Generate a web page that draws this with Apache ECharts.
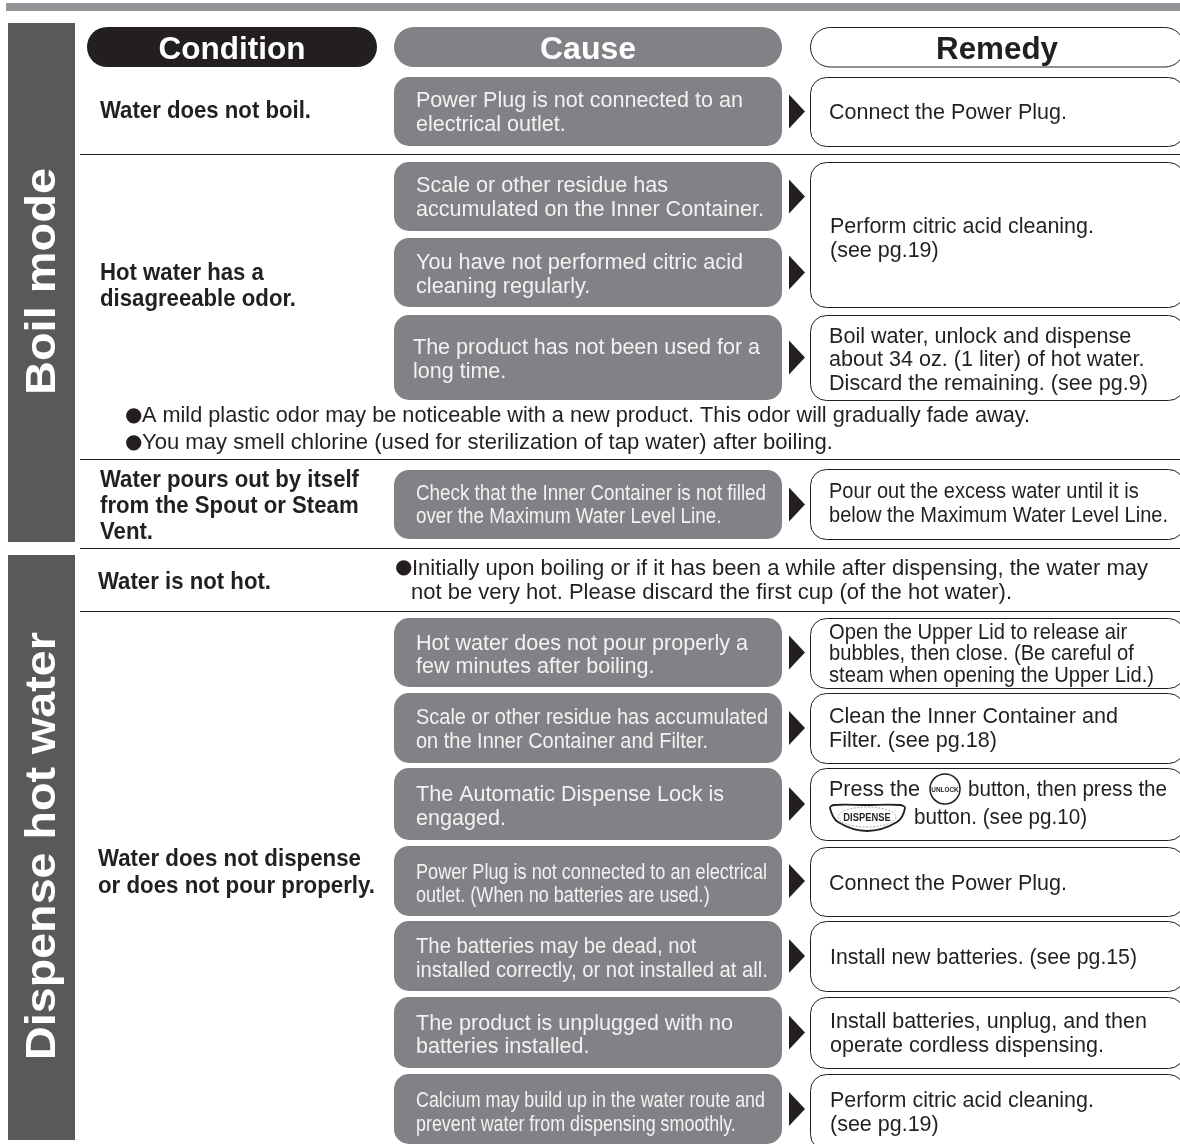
<!DOCTYPE html>
<html>
<head>
<meta charset="utf-8">
<title>Troubleshooting</title>
<script src="https://cdn.jsdelivr.net/npm/echarts@6/dist/echarts.min.js"></script>
<style>
  html, body { margin: 0; padding: 0; background: #fff; }
  #chart { width: 1180px; height: 1144px; }
</style>
</head>
<body>
<div id="chart"></div>
<script>
// table content
const sideLabels = ['Boil mode', 'Dispense hot water'];
const headers = ['Condition', 'Cause', 'Remedy'];
const conditions = [
  ['Water does not boil.'],
  ['Hot water has a', 'disagreeable odor.'],
  ['Water pours out by itself', 'from the Spout or Steam', 'Vent.'],
  ['Water is not hot.'],
  ['Water does not dispense', 'or does not pour properly.']
];
const causes = [
  ['Power Plug is not connected to an', 'electrical outlet.'],
  ['Scale or other residue has', 'accumulated on the Inner Container.'],
  ['You have not performed citric acid', 'cleaning regularly.'],
  ['The product has not been used for a', 'long time.'],
  ['Check that the Inner Container is not filled', 'over the Maximum Water Level Line.'],
  ['Hot water does not pour properly a', 'few minutes after boiling.'],
  ['Scale or other residue has accumulated', 'on the Inner Container and Filter.'],
  ['The Automatic Dispense Lock is', 'engaged.'],
  ['Power Plug is not connected to an electrical', 'outlet. (When no batteries are used.)'],
  ['The batteries may be dead, not', 'installed correctly, or not installed at all.'],
  ['The product is unplugged with no', 'batteries installed.'],
  ['Calcium may build up in the water route and', 'prevent water from dispensing smoothly.']
];
const remedies = [
  ['Connect the Power Plug.'],
  ['Perform citric acid cleaning.', '(see pg.19)'],
  ['Boil water, unlock and dispense', 'about 34 oz. (1 liter) of hot water.', 'Discard the remaining. (see pg.9)'],
  ['Pour out the excess water until it is', 'below the Maximum Water Level Line.'],
  ['Open the Upper Lid to release air', 'bubbles, then close. (Be careful of', 'steam when opening the Upper Lid.)'],
  ['Clean the Inner Container and', 'Filter. (see pg.18)'],
  ['Connect the Power Plug.'],
  ['Install new batteries. (see pg.15)'],
  ['Install batteries, unplug, and then', 'operate cordless dispensing.'],
  ['Perform citric acid cleaning.', '(see pg.19)']
];
const pressLines = ['Press the', 'button, then press the', 'button. (see pg.10)'];
const notes = [
  ['A mild plastic odor may be noticeable with a new product. This odor will gradually fade away.'],
  ['You may smell chlorine (used for sterilization of tap water) after boiling.'],
  ['Initially upon boiling or if it has been a while after dispensing, the water may'],
  ['not be very hot. Please discard the first cup (of the hot water).']
];

// layout: [x, first line y, line height, widest line width]
const conditionPos = [[100, 110, 0, 211], [100, 272, 26, 196], [100, 479, 26, 259], [98, 581, 0, 173], [98, 858, 27, 277]];
const causePos = [
  [416, 99, 24, 327], [416, 184, 24, 348], [416, 261, 24, 327], [413, 346, 24, 347],
  [416, 492, 23, 350], [416, 642, 23, 332], [416, 716, 24, 352], [416, 793, 24, 308],
  [416, 871, 23, 351], [416, 945, 24, 352], [416, 1022, 23, 317], [416, 1099, 24, 349]
];
const remedyPos = [
  [829, 111, 0, 238], [830, 225, 24, 264], [829, 335, 23.5, 319], [829, 490, 24, 339],
  [829, 631, 21.5, 325], [829, 715, 24, 289], [829, 882, 0, 238], [830, 956, 0, 307],
  [830, 1020, 24, 317], [830, 1099, 24, 264]
];
const notePos = [[142, 414, 0, 888], [142, 441, 0, 691], [412, 567, 0, 736], [411, 591, 0, 601]];
const bulletPos = [[125, 414], [125, 441], [395, 566]];
const causeBoxes = [[77, 146], [162, 231], [238, 307], [315, 400], [470, 539], [618, 687], [693, 763], [768, 840], [846, 916], [921, 991], [997, 1068], [1074, 1144]];
const remedyBoxes = [[77, 146], [162, 307], [315, 400], [469, 539], [618, 688], [693, 763], [768, 840], [847, 916], [921, 991], [997, 1068], [1074, 1150]];
const ruleYs = [154.5, 459.5, 548.5, 611.5];
const sidePanels = [[23, 542], [555, 1140]];

const FONT = '"Liberation Sans", Arial, sans-serif';
const INK = '#231f20';
const TEXT_SHIFT = 1.5;
const measure = document.createElement('canvas').getContext('2d');

function fitScale(lines, size, weight, width) {
  measure.font = weight + ' ' + size + 'px ' + FONT;
  const widest = Math.max(...lines.map(l => measure.measureText(l).width));
  return width / widest;
}

function textBlock(lines, pos, size, weight, fill) {
  const sx = fitScale(lines, size, weight, pos[3]);
  return lines.map((line, i) => ({
    type: 'text',
    x: pos[0],
    y: pos[1] + i * pos[2] + TEXT_SHIFT,
    scaleX: sx,
    style: { text: line, fill: fill, font: weight + ' ' + size + 'px ' + FONT, textAlign: 'left', textVerticalAlign: 'middle' }
  }));
}

function box(x, y0, y1, width, r, fill, stroke) {
  return {
    type: 'rect',
    shape: { x: x, y: y0, width: width, height: y1 - y0, r: r },
    style: { fill: fill, stroke: stroke || null, lineWidth: stroke ? 1 : 0 }
  };
}

function ellipsePoints(cx, cy, rx, ry) {
  const pts = [];
  for (let a = 0; a < 360; a += 10) {
    pts.push([cx + rx * Math.cos(a * Math.PI / 180), cy + ry * Math.sin(a * Math.PI / 180)]);
  }
  return pts;
}

const items = [];

// top bar, rules and side panels
items.push({ type: 'rect', shape: { x: 6, y: 3, width: 1174, height: 8 }, style: { fill: '#929497' } });
ruleYs.forEach(y => items.push({ type: 'line', shape: { x1: 80, y1: y, x2: 1180, y2: y }, style: { stroke: '#231f20', lineWidth: 1 } }));
sidePanels.forEach((p, i) => {
  items.push(box(8, p[0], p[1], 67, 0, '#58595b'));
  const target = i === 0 ? 227 : 428;
  measure.font = 'bold 43px ' + FONT;
  items.push({
    type: 'text',
    x: 43,
    y: i === 0 ? 281.5 : 846,
    rotation: Math.PI / 2,
    scaleX: target / measure.measureText(sideLabels[i]).width,
    style: { text: sideLabels[i], fill: '#fff', font: 'bold 43px ' + FONT, textAlign: 'center', textVerticalAlign: 'middle' }
  });
});

// header pills
const headerPills = [[87, 290, '#231f20', null, '#fff', 232, 147], [394, 388, '#808285', null, '#fff', 588, 96], [810.5, 374, '#fff', '#231f20', INK, 997, 122]];
headerPills.forEach((h, i) => {
  items.push(box(h[0], i === 2 ? 27.5 : 27, 67, h[1], 20, h[2], h[3]));
  measure.font = 'bold 32px ' + FONT;
  items.push({
    type: 'text', x: h[5], y: 50.5,
    scaleX: h[6] / measure.measureText(headers[i]).width,
    style: { text: headers[i], fill: h[4], font: 'bold 32px ' + FONT, textAlign: 'center', textVerticalAlign: 'middle' }
  });
});

// cause boxes and their arrows
causeBoxes.forEach((b, i) => {
  items.push(box(394, b[0], b[1], 388, 15, '#808285'));
  const mid = (b[0] + b[1]) / 2;
  items.push({ type: 'polygon', shape: { points: [[789, mid - 17], [805, mid], [789, mid + 17]] }, style: { fill: INK } });
  items.push(...textBlock(causes[i], causePos[i], 22, 'normal', '#f1f2f2'));
});

// remedy boxes
remedyBoxes.forEach(b => items.push(box(810.5, b[0] + 0.5, b[1] + 0.5, 374, 16, '#fff', '#231f20')));
remedies.forEach((lines, i) => items.push(...textBlock(lines, remedyPos[i], 22, 'normal', INK)));

// conditions and notes
conditions.forEach((lines, i) => items.push(...textBlock(lines, conditionPos[i], 24, 'bold', INK)));
notes.forEach((lines, i) => items.push(...textBlock(lines, notePos[i], 22, 'normal', INK)));
bulletPos.forEach(p => items.push({
  type: 'text', x: p[0], y: p[1] + TEXT_SHIFT,
  style: { text: '●', fill: INK, font: '20px "DejaVu Sans"', textAlign: 'left', textVerticalAlign: 'middle' }
}));

// remedy with the button pictures
items.push(...textBlock([pressLines[0]], [829, 788, 0, 91], 22, 'normal', INK));
items.push(...textBlock([pressLines[1]], [968, 788, 0, 199], 22, 'normal', INK));
items.push(...textBlock([pressLines[2]], [914, 816, 0, 173], 22, 'normal', INK));
items.push({ type: 'circle', shape: { cx: 945, cy: 789, r: 15 }, style: { fill: '#fff', stroke: INK, lineWidth: 1.5 } });
items.push({ type: 'text', x: 945, y: 789.5, scaleX: 0.8, style: { text: 'UNLOCK', fill: INK, font: 'bold 8px ' + FONT, textAlign: 'center', textVerticalAlign: 'middle' } });
items.push({
  type: 'polygon',
  shape: { points: [[830, 808], [834, 805], [866, 805], [900, 805], [905, 808], [897, 822], [867, 831], [838, 822]], smooth: 0.35 },
  style: { fill: '#fff', stroke: INK, lineWidth: 1.8 }
});
items.push({ type: 'polygon', shape: { points: ellipsePoints(867, 817, 29, 10) }, style: { fill: 'none', stroke: '#808285', lineWidth: 0.7, lineDash: [2, 1.5] } });
items.push({ type: 'text', x: 867, y: 818, scaleX: 0.85, style: { text: 'DISPENSE', fill: INK, font: 'bold 11px ' + FONT, textAlign: 'center', textVerticalAlign: 'middle' } });

const chart = echarts.init(document.getElementById('chart'));
chart.setOption({
  backgroundColor: '#fff',
  animation: false,
  graphic: { elements: items }
});
</script>
</body>
</html>
